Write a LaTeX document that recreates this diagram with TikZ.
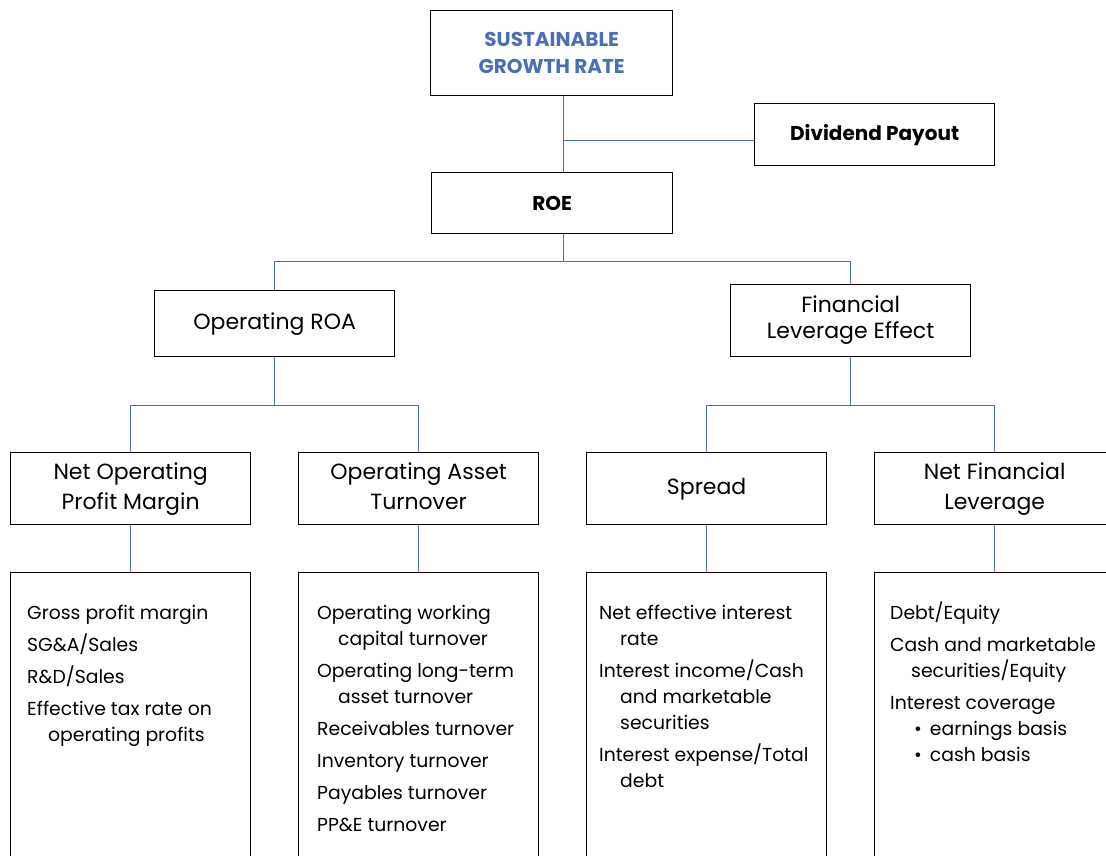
\documentclass[tikz,border=0pt]{standalone}
\usepackage{fontspec}
\setmainfont{Poppins}
\usetikzlibrary{calc}
\definecolor{linkblue}{HTML}{4472C4}
\definecolor{titleblue}{HTML}{4A6FB8}
\newcommand{\hang}{\hspace*{21pt}}
\newcommand{\firstline}{\rule{0pt}{17pt}}
\begin{document}
\begin{tikzpicture}[x=1pt,y=-1pt,
  box/.style={draw=black, line width=1.3pt, inner sep=0pt, anchor=north west,
    minimum width=240pt, align=center},
  head/.style={font={\fontsize{20}{27}\selectfont\bfseries}},
  mid/.style={font={\fontsize{22}{30}\selectfont}},
  listbox/.style={box, minimum height=320pt},
  listtext/.style={anchor=north west, inner sep=0pt, align=left,
    font={\fontsize{18.8}{26}\selectfont}},
  link/.style={draw=linkblue, line width=0.9pt}]
\useasboundingbox (0,0) rectangle (1106,855);
\clip (0,0) rectangle (1106,855);

% top of the tree
\node[box, head, minimum width=242pt, minimum height=85pt, text=titleblue] (sgr) at (430,10)
  {SUSTAINABLE\\GROWTH RATE};
\node[box, head, minimum height=62pt] (div) at (754,103) {Dividend Payout};
\node[box, head, minimum width=241pt, minimum height=61pt] (roe) at (431,172) {ROE};

% second level
\node[box, mid, minimum height=66pt] (roa) at (154,290) {Operating ROA};
\node[box, minimum height=72pt, font={\fontsize{22}{26}\selectfont}] (fle) at (730,284)
  {\strut Financial\\Leverage Effect\strut};

% third level
\node[box, mid, minimum height=72pt] (nopm) at (10,452) {\strut Net Operating\\Profit Margin\strut};
\node[box, mid, minimum height=72pt] (oat) at (298,452) {\strut Operating Asset\\Turnover\strut};
\node[box, mid, minimum height=72pt] (spr) at (586,452) {\strut Spread\strut};
\node[box, mid, minimum height=72pt] (nfl) at (874,452) {\strut Net Financial\\Leverage\strut};

% ratio lists
\node[listbox] (l1) at (10,572) {};
\node[listbox] (l2) at (298,572) {};
\node[listbox] (l3) at (586,572) {};
\node[listbox] (l4) at (874,572) {};

\node[listtext] (t1) at ($(l1.north west)+(17,30)$) {%
  \firstline Gross profit margin\\[6pt]
  SG\&A/Sales\\[6pt]
  R\&D/Sales\\[6pt]
  Effective tax rate on\\
  \hang operating profits};
\node[listtext] (t2) at ($(l2.north west)+(19,30)$) {%
  \firstline Operating working\\
  \hang capital turnover\\[6pt]
  Operating long-term\\
  \hang asset turnover\\[6pt]
  Receivables turnover\\[6pt]
  Inventory turnover\\[6pt]
  Payables turnover\\[6pt]
  PP\&E turnover};
\node[listtext] (t3) at ($(l3.north west)+(13,30)$) {%
  \firstline Net effective interest\\
  \hang rate\\[6pt]
  Interest income/Cash\\
  \hang and marketable\\
  \hang securities\\[6pt]
  Interest expense/Total\\
  \hang debt};
\node[listtext] (t4) at ($(l4.north west)+(16,30)$) {%
  \firstline Debt/Equity\\[6pt]
  Cash and marketable\\
  \hang securities/Equity\\[6pt]
  Interest coverage\\
  \hspace*{24pt}\textbullet\hspace{8pt}earnings basis\\
  \hspace*{24pt}\textbullet\hspace{8pt}cash basis};

% connectors
\coordinate (trunk) at (563,140);
\draw[link] (sgr.south -| trunk) -- (roe.north -| trunk);
\draw[link] (trunk) -- (div.west |- trunk);
\draw[link] (roe.south -| trunk) -- ++(0,27) coordinate (j1);
\draw[link] (roa.north) |- (j1) -| (fle.north);
\draw[link] (roa.south) -- ++(0,48) coordinate (j2);
\draw[link] (nopm.north) |- (j2) -| (oat.north);
\draw[link] (fle.south) -- ++(0,48) coordinate (j3);
\draw[link] (spr.north) |- (j3) -| (nfl.north);
\draw[link] (nopm.south) -- (l1.north);
\draw[link] (oat.south) -- (l2.north);
\draw[link] (spr.south) -- (l3.north);
\draw[link] (nfl.south) -- (l4.north);
\end{tikzpicture}
\end{document}
